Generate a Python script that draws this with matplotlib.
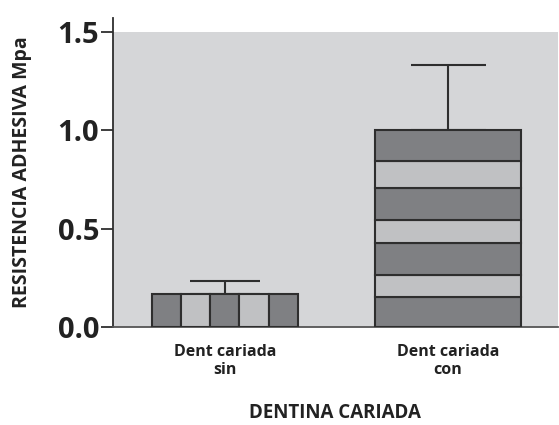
import numpy as np
import matplotlib.pyplot as plt

# data
categories = ["Dent cariada\nsin", "Dent cariada\ncon"]
means = [0.168, 1.0]
errors_up = [0.066, 0.33]
# stripes of the "con" bar (boundaries, bottom to top)
con_bounds = [0.0, 0.153, 0.264, 0.427, 0.544, 0.707, 0.844, 1.0]
n_sin_cols = 5

dark = "#7f8083"
light = "#c0c1c3"
bg = "#d5d6d8"
edge = "#2e2e2e"
txt = "#222222"

plt.rcParams['font.family'] = ['Open Sans', 'DejaVu Sans']

fig = plt.figure(figsize=(5.59, 4.25), dpi=100)
ax = fig.add_axes([0.202, 0.2306, 0.796, 0.7270])

x = np.arange(len(categories))
width = 0.655

# grey panel up to 1.5
ax.axhspan(0, 1.5, color=bg, zorder=0, lw=0)

# first bar: vertical stripes
seg_w = width / n_sin_cols
for i in range(n_sin_cols):
    left = x[0] - width / 2 + i * seg_w
    ax.bar(left, means[0], width=seg_w, align="edge",
           color=dark if i % 2 == 0 else light, edgecolor=edge, linewidth=1.5, zorder=3)

# second bar: horizontal stripes
for i in range(len(con_bounds) - 1):
    ax.bar(x[1], con_bounds[i + 1] - con_bounds[i], bottom=con_bounds[i], width=width,
           color=dark if i % 2 == 0 else light, edgecolor=edge, linewidth=1.5, zorder=3)

# upper error bars
caps = [25.5, 27]
for xi, m, e, c in zip(x, means, errors_up, caps):
    ax.errorbar(xi, m, yerr=[[0], [e]], fmt="none", ecolor=edge, elinewidth=1.5,
                capsize=c, capthick=1.5, zorder=2)

ax.set_xlim(-0.502, 1.493)
ax.set_ylim(0, 1.57)
ax.set_yticks([0.0, 0.5, 1.0, 1.5])
ax.set_yticklabels(["0.0", "0.5", "1.0", "1.5"])
ax.tick_params(axis="y", direction="out", length=9, width=1.3, color=edge, pad=1,
               labelsize=21)
for lab in ax.get_yticklabels():
    lab.set_fontweight("bold")
    lab.set_color(txt)
ax.set_xticks(x)
ax.set_xticklabels(categories, fontsize=11.5, fontweight="bold", color=txt,
                   linespacing=1.2)
ax.tick_params(axis="x", length=0, pad=12)

for s in ["top", "right"]:
    ax.spines[s].set_visible(False)
ax.spines["left"].set_color(edge)
ax.spines["left"].set_linewidth(1.3)
ax.spines["bottom"].set_color("#555555")
ax.spines["bottom"].set_linewidth(1.3)

ax.set_ylabel("RESISTENCIA ADHESIVA Mpa", fontsize=14, fontweight="bold",
              color=txt, labelpad=18)
ax.set_xlabel("DENTINA CARIADA", fontsize=13.5, fontweight="bold",
              color=txt, labelpad=18)

fig.savefig("out.png", dpi=100, facecolor="white")
